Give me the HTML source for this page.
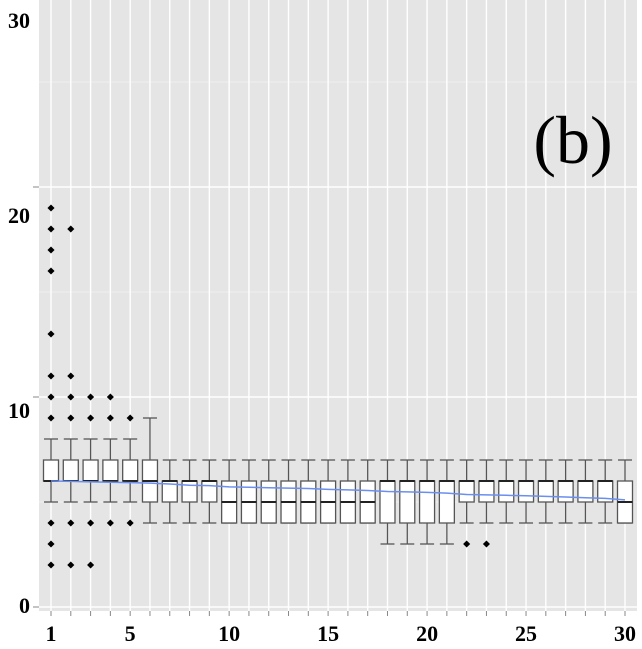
<!DOCTYPE html>
<html><head><meta charset="utf-8"><style>
html,body{margin:0;padding:0;background:#fff;}
svg{display:block;}
text{font-family:"Liberation Serif",serif;font-weight:bold;fill:#000;}
</style></head><body>
<svg id="chart" width="642" height="649"></svg>
<script>
const categories=[1,2,3,4,5,6,7,8,9,10,11,12,13,14,15,16,17,18,19,20,21,22,23,24,25,26,27,28,29,30];
const q1=[6,6,6,6,6,5,5,5,5,4,4,4,4,4,4,4,4,4,4,4,4,5,5,5,5,5,5,5,5,4];
const med=[6,6,6,6,6,6,6,6,6,5,5,5,5,5,5,5,5,6,6,6,6,6,6,6,6,6,6,6,6,5];
const q3=[7,7,7,7,7,7,6,6,6,6,6,6,6,6,6,6,6,6,6,6,6,6,6,6,6,6,6,6,6,6];
const wlo=[5,5,5,5,5,4,4,4,4,4,4,4,4,4,4,4,4,3,3,3,3,4,4,4,4,4,4,4,4,4];
const whi=[8,8,8,8,8,9,7,7,7,7,7,7,7,7,7,7,7,7,7,7,7,7,7,7,7,7,7,7,7,7];
const outliers=[[2,3,4,9,10,11,13,16,17,18,19],[2,4,9,10,11,18],[2,4,9,10],[4,9,10],[4,9],[],[],[],[],[],[],[],[],[],[],[],[],[],[],[],[],[3],[3],[],[],[],[],[],[],[]];
const trend=[6.0,5.98,5.96,5.94,5.92,5.9,5.86,5.8,5.78,5.72,5.7,5.68,5.66,5.64,5.6,5.58,5.55,5.5,5.48,5.46,5.42,5.36,5.34,5.32,5.3,5.27,5.24,5.2,5.17,5.1];
const yTicks=[0,10,20,30];
const xTickLabels=[1,5,10,15,20,25,30];

const NS="http://www.w3.org/2000/svg";
const svg=document.getElementById('chart');
const L=39,R=637,T=0,B=611;
const x=c=>51+(c-1)*(625-51)/29;
const y=v=>607-v*21;
function el(tag,attrs,parent){const e=document.createElementNS(NS,tag);for(const k in attrs)e.setAttribute(k,attrs[k]);(parent||svg).appendChild(e);return e;}

const bg=el('rect',{x:L,y:T,width:R-L,height:B-T,fill:'#e5e5e5'});


const grid=el('g',{});


[5,15,25].forEach(v=>el('line',{x1:L,x2:R,y1:y(v),y2:y(v),stroke:'#f0f0f0','stroke-width':0.8},grid));
yTicks.forEach(v=>el('line',{x1:L,x2:R,y1:y(v),y2:y(v),stroke:'#fff','stroke-width':1.4},grid));
categories.forEach(c=>el('line',{x1:x(c),x2:x(c),y1:T,y2:B,stroke:'#fff','stroke-width':1.4},grid));

const hw=7.5,cw=7;
categories.forEach((c,i)=>{
  const g=el('g',{});
  
  
  const cx=x(c),st='#555';
  el('line',{x1:cx,x2:cx,y1:y(whi[i]),y2:y(q3[i]),stroke:st,'stroke-width':1.3},g);
  el('line',{x1:cx,x2:cx,y1:y(q1[i]),y2:y(wlo[i]),stroke:st,'stroke-width':1.3},g);
  el('line',{x1:cx-cw,x2:cx+cw,y1:y(whi[i]),y2:y(whi[i]),stroke:st,'stroke-width':1.3},g);
  el('line',{x1:cx-cw,x2:cx+cw,y1:y(wlo[i]),y2:y(wlo[i]),stroke:st,'stroke-width':1.3},g);
  el('rect',{x:cx-hw,y:y(q3[i]),width:2*hw,height:y(q1[i])-y(q3[i]),fill:'#fff',stroke:st,'stroke-width':1.3},g);
  el('line',{x1:cx-hw,x2:cx+hw,y1:y(med[i]),y2:y(med[i]),stroke:'#222','stroke-width':2},g);
  outliers[i].forEach(v=>{
    const d=el('rect',{x:cx-2.5,y:y(v)-2.5,width:5,height:5,fill:'#000',transform:`rotate(45 ${cx} ${y(v)})`},g);
    
    
  });
});

const tl=el('polyline',{points:categories.map((c,i)=>x(c)+','+y(trend[i])).join(' '),fill:'none',stroke:'#6b8ff0','stroke-width':1.5});



const yLabelPos={0:605,10:410,20:215,30:20};
yTicks.forEach(v=>{
  el('line',{x1:33,x2:L,y1:y(v),y2:y(v),stroke:'#888','stroke-width':1});
  const t=el('text',{x:30,y:yLabelPos[v]+8,'text-anchor':'end','font-size':22});
  t.textContent=v;
  
  
});
categories.forEach(c=>el('line',{x1:x(c),x2:x(c),y1:B,y2:B+5,stroke:'#888','stroke-width':1}));
xTickLabels.forEach(v=>{
  const t=el('text',{x:x(v),y:641,'text-anchor':'middle','font-size':22});
  t.textContent=v;
  
  
});
const p=el('text',{x:573,y:163,'text-anchor':'middle','font-size':68,'font-weight':'normal'});
p.style.fontWeight='normal';
p.textContent='(b)';


</script>
</body></html>
